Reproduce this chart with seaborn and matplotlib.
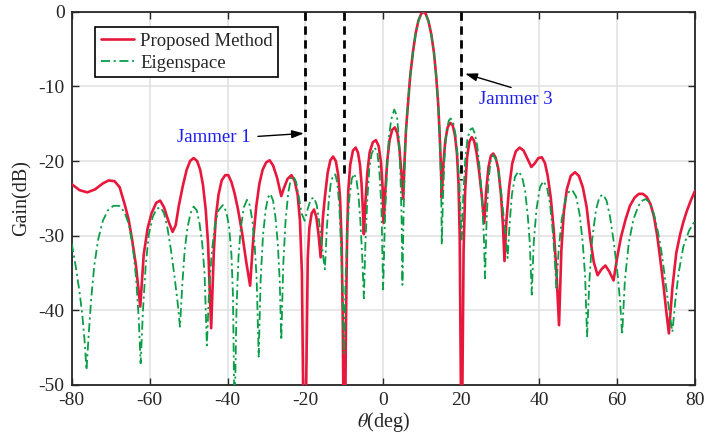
import numpy as np
import pandas as pd
import matplotlib
matplotlib.use("Agg")
import matplotlib.pyplot as plt
import seaborn as sns

# ---------------- data ----------------
# (theta in deg, gain in dB)
prop_points = [
    (-80, -23.1), (-78, -23.9), (-76, -24.2), (-74, -23.8), (-72, -23.0), (-70.5, -22.6), (-69, -22.7),
    (-67.7, -23.5), (-66.4, -25.8), (-65.4, -27.8), (-64.5, -30.5), (-63.5, -34), (-62.4, -39.5),
    (-61.5, -32.5), (-60.5, -29), (-59.5, -27), (-58.3, -25.6), (-57.3, -25.3), (-56.3, -26.2),
    (-55.2, -28), (-54.1, -29.5), (-53.3, -28.6), (-52.5, -26), (-51.5, -23.4), (-50.5, -21.2),
    (-49.6, -20), (-48.7, -19.6), (-47.8, -20), (-47, -21.2), (-46.3, -23.2), (-45.6, -26.5),
    (-45, -31), (-44.2, -42.4), (-43.5, -32), (-43, -27.5), (-42.3, -24.5), (-41.5, -22.6),
    (-40.6, -21.9), (-39.8, -21.9), (-39, -22.8), (-38.2, -24.3), (-37.3, -26.5), (-36.3, -29.5),
    (-35.2, -33.5), (-34.2, -36.7), (-33.4, -30.5), (-32.6, -26), (-31.8, -23), (-31, -21.2),
    (-30.1, -20.2), (-29.2, -19.9), (-28.3, -20.6), (-27.3, -22.2), (-26.2, -24.7), (-25.5, -23.6),
    (-24.6, -22.4), (-23.6, -21.9), (-22.8, -22.6), (-22, -24.5), (-21.4, -28), (-20.9, -35),
    (-20.6, -50), (-20.2, -70), (-19.8, -50), (-19.4, -33), (-19.0, -29), (-18.4, -27.0),
    (-17.8, -26.5), (-17.2, -27.5), (-16.6, -30), (-16.1, -32.9), (-15.5, -27.5), (-15.0, -24.8),
    (-14.3, -21.6), (-13.6, -19.9), (-12.9, -19.4), (-12.2, -20.0), (-11.6, -21.8), (-11.1, -25),
    (-10.7, -31), (-10.4, -42), (-10, -70), (-9.6, -42), (-9.3, -30), (-9.0, -24), (-8.5, -20.5),
    (-7.8, -18.6), (-7.1, -18.2), (-6.5, -18.9), (-6.0, -20.5), (-5.6, -23), (-5.3, -26),
    (-5.0, -29.8), (-4.6, -25.5), (-4.1, -21.5), (-3.5, -18.8), (-2.7, -17.5), (-1.9, -17.2),
    (-1.2, -18), (-0.6, -20.2), (-0.2, -23.5), (0.1, -28.3), (0.5, -24), (1.0, -20), (1.6, -17.2),
    (2.3, -15.8), (2.96, -15.5), (3.6, -16.3), (4.1, -18.2), (4.6, -21.3), (5.1, -25.1),
    (5.4, -20.5), (5.8, -16), (6.3, -12.5), (6.9, -8.6), (7.6, -5.4), (8.3, -2.9), (9.0, -1.2),
    (9.7, -0.3), (10.3, 0.0), (10.9, -0.3), (11.6, -1.3), (12.3, -3.0), (13.0, -5.5), (13.6, -8.8),
    (14.1, -12.5), (14.5, -17), (14.8, -21), (15.0, -24.9), (15.4, -20.5), (15.9, -17.3),
    (16.5, -15.5), (17.2, -14.9), (17.8, -15.2), (18.4, -16.6), (18.9, -19), (19.3, -23),
    (19.6, -30), (19.9, -50), (20.1, -70), (20.3, -50), (20.6, -32), (21.0, -24), (21.5, -19.5),
    (22.1, -17.4), (22.7, -16.8), (23.3, -17.3), (23.9, -18.8), (24.5, -21), (25.2, -24.3),
    (25.9, -28.3), (26.4, -24), (27.0, -20.8), (27.6, -19.3), (28.2, -19.0), (28.8, -19.5),
    (29.5, -21), (30.2, -24.5), (30.7, -28.5), (31.1, -33.4), (31.6, -28), (32.3, -23.5),
    (33.1, -20.3), (34.0, -18.7), (35.0, -18.2), (36.0, -18.6), (37.0, -19.7), (38.0, -20.8),
    (38.9, -20.3), (39.8, -19.6), (40.7, -19.5), (41.5, -20.3), (42.2, -22), (43.0, -25),
    (43.7, -29), (44.4, -34.5), (45.1, -42.0), (45.7, -32), (46.3, -27), (47.1, -23.8),
    (48.1, -22), (49.2, -21.5), (50.2, -22), (51.2, -23.5), (52.2, -26.2), (53.1, -30.3),
    (54.0, -33.5), (55.0, -35.3), (56.0, -34.5), (57.0, -34.0), (58.0, -34.8), (59.1, -36.0),
    (60.0, -33), (61.0, -30.2), (62.2, -27.8), (63.3, -26), (64.5, -24.9), (65.6, -24.4),
    (66.6, -24.4), (67.6, -24.8), (68.6, -25.8), (69.5, -27.5), (70.3, -30), (71.0, -32.8),
    (71.9, -36.6), (72.6, -40), (73.3, -43.1), (74.2, -37), (75.2, -32.3), (76.2, -29.8),
    (77.0, -28.2), (77.9, -26.7), (79, -25.2), (80, -24.0),
]

eig_points = [
    (-80, -31), (-79, -34), (-78, -37.5), (-77.3, -40.5), (-76.7, -44), (-76.2, -48), (-75.6, -43),
    (-75, -38.5), (-74.2, -34), (-73.2, -30.5), (-72, -28), (-70.7, -26.6), (-69.3, -26.0),
    (-67.8, -26.0), (-66.5, -26.8), (-65.3, -28.5), (-64.3, -31.5), (-63.5, -35.5), (-62.8, -41),
    (-62.3, -47.1), (-61.7, -40), (-61.0, -34), (-60.2, -29.8), (-59.2, -27.5), (-58.2, -26.4),
    (-57.2, -26.2), (-56.3, -27), (-55.4, -29), (-54.5, -32), (-53.6, -35.5), (-52.8, -39),
    (-52.2, -42.2), (-51.6, -36.5), (-51.0, -32), (-50.3, -29), (-49.5, -27), (-48.7, -26.1),
    (-47.9, -26.6), (-47.2, -28.3), (-46.5, -31), (-45.9, -35), (-45.3, -44.7), (-44.7, -37),
    (-44.0, -32), (-43.2, -28.5), (-42.3, -26.6), (-41.2, -25.9), (-40.3, -26.8), (-39.6, -28.8),
    (-39.0, -32.5), (-38.6, -38), (-38.2, -55), (-37.7, -40), (-37.2, -33), (-36.6, -29),
    (-35.8, -26.2), (-35.0, -25.2), (-34.3, -25.9), (-33.6, -28), (-33.0, -31.5), (-32.5, -36),
    (-32.0, -46.2), (-31.5, -36), (-30.9, -30), (-30.2, -26.5), (-29.6, -24.9), (-29.0, -24.4),
    (-28.3, -25.3), (-27.7, -27.5), (-27.1, -31), (-26.6, -36), (-26.2, -44.0), (-25.7, -34),
    (-25.1, -28), (-24.4, -24.2), (-23.7, -22.3), (-23.1, -22.0), (-22.4, -22.8), (-21.7, -24.8),
    (-21.0, -27), (-20.2, -28.0), (-19.4, -26.4), (-18.6, -25.1), (-17.8, -24.9), (-17.1, -25.9),
    (-16.5, -28), (-15.9, -30.8), (-15.4, -33), (-15.0, -34.5), (-14.5, -29), (-14.0, -25.3),
    (-13.5, -23), (-12.9, -21.9), (-12.3, -21.8), (-11.8, -23), (-11.3, -26), (-10.9, -31),
    (-10.5, -37), (-10.1, -45.8), (-9.7, -36), (-9.2, -29), (-8.7, -24.8), (-8.1, -22.4),
    (-7.5, -21.7), (-6.9, -22.5), (-6.4, -24.5), (-5.9, -28), (-5.4, -33), (-5.0, -38.4),
    (-4.6, -31), (-4.1, -25), (-3.6, -21), (-3.0, -19), (-2.2, -18.2), (-1.5, -19), (-1.0, -21.5),
    (-0.5, -26), (-0.05, -37.2), (0.4, -28), (0.9, -21.5), (1.4, -17), (2.0, -14.5), (2.8, -13.1),
    (3.5, -14), (4.0, -17), (4.4, -22), (4.7, -28), (4.9, -36.6), (5.2, -27), (5.5, -20),
    (5.8, -16), (6.3, -12.5), (6.9, -8.6), (7.6, -5.4), (8.3, -2.9), (9.0, -1.2), (9.7, -0.3),
    (10.3, 0.0), (10.9, -0.3), (11.6, -1.3), (12.3, -3.0), (13.0, -5.5), (13.6, -8.8),
    (14.1, -12.5), (14.5, -17), (14.7, -21), (14.9, -26), (15.0, -31.2), (15.3, -25),
    (15.7, -19.5), (16.2, -16), (16.8, -14.6), (17.3, -14.3), (17.9, -14.8), (18.5, -16.4),
    (19.0, -19), (19.5, -23), (19.8, -27), (20.1, -30.5), (20.5, -25), (21.0, -20), (21.6, -17),
    (22.3, -15.8), (22.9, -15.6), (23.5, -16.3), (24.1, -18), (24.7, -20.8), (25.3, -25),
    (25.8, -30), (26.1, -35.7), (26.5, -28), (27.0, -22.5), (27.6, -19.8), (28.2, -19.2),
    (28.9, -19.8), (29.6, -21.5), (30.3, -24.5), (31.0, -28), (31.5, -30.5), (31.9, -33.0),
    (32.4, -28.5), (33.0, -24.5), (33.8, -22.1), (34.7, -21.4), (35.6, -22.1), (36.4, -24),
    (37.1, -27.5), (37.6, -31), (38.1, -37.9), (38.6, -31), (39.3, -26.5), (40.2, -23.5),
    (41.1, -22.7), (42.0, -23.5), (42.8, -25.8), (43.5, -29.5), (44.0, -33), (44.4, -37.0),
    (45.0, -32), (45.8, -27.8), (46.8, -25), (47.8, -24), (48.5, -23.9), (49.5, -24.8),
    (50.4, -27.2), (51.2, -31), (51.8, -35.5), (52.3, -43.5), (52.9, -36), (53.6, -30.5),
    (54.6, -26.5), (55.5, -24.8), (56.4, -24.5), (57.3, -25.3), (58.2, -27.5), (59.2, -31),
    (60.2, -35.5), (60.8, -39), (61.3, -43.3), (62.0, -36), (63.0, -31), (64.2, -27.8),
    (65.5, -26), (66.5, -25.3), (67.3, -25.1), (68.3, -25.5), (69.4, -27), (70.5, -29.5),
    (71.5, -32.5), (72.5, -36.5), (73.5, -40.5), (74.2, -42.9), (74.9, -39), (75.8, -35),
    (77.0, -31.5), (78.5, -29.3), (80, -28),
]

series_names = ["Proposed Method", "Eigenspace"]
jammer_theta = [-20, -10, 20]
jammer_bottom = [-25.5, -21.8, -22.5]
x_ticks = [-80, -60, -40, -20, 0, 20, 40, 60, 80]
y_ticks = [0, -10, -20, -30, -40, -50]

# ---------------- style ----------------
sns.set_theme(style="ticks")
plt.rcParams["font.family"] = ["Liberation Serif", "DejaVu Serif"]
plt.rcParams["mathtext.fontset"] = "stix"
plt.rcParams["axes.unicode_minus"] = False

fig = plt.figure(figsize=(7.07, 4.44), dpi=100)
ax = fig.add_axes([0.1014, 0.133, 0.8816, 0.8406])

df_p = pd.DataFrame(prop_points, columns=["theta", "gain"])
df_e = pd.DataFrame(eig_points, columns=["theta", "gain"])

sns.lineplot(data=df_p, x="theta", y="gain", ax=ax, color="#e8173c", lw=1.9,
             sort=False, estimator=None, label=series_names[0], zorder=3)
sns.lineplot(data=df_e, x="theta", y="gain", ax=ax, color="#0a9e48", lw=1.3,
             linestyle=(0, (5, 2, 1.2, 2)), sort=False, estimator=None,
             label=series_names[1], zorder=4)

for jt, jb in zip(jammer_theta, jammer_bottom):
    ax.plot([jt, jt], [0, jb], color="black", lw=2.0, linestyle=(0, (3, 2)), zorder=5)

ax.set_xlim(-80, 80)
ax.set_ylim(-50, 0)
ax.set_xticks(x_ticks)
ax.set_yticks(y_ticks)
ax.set_xticklabels([str(v) for v in x_ticks])
ax.set_yticklabels([str(v) for v in y_ticks])
ax.grid(True, color="#e0e0e0", lw=1.1)
ax.set_axisbelow(True)
ax.tick_params(direction="in", top=True, right=True, labelsize=14, length=5,
               width=1.0, color="#262626", pad=5)
for s in ax.spines.values():
    s.set_linewidth(1.3)
    s.set_color("#262626")
ax.set_xlabel(r"$\theta$(deg)", fontsize=14.5, labelpad=1)
ax.set_ylabel("Gain(dB)", fontsize=14.5, labelpad=5)

leg = ax.legend(loc="upper left", bbox_to_anchor=(0.0374, 0.959), borderaxespad=0,
                fontsize=13.5, frameon=True, fancybox=False, edgecolor="black",
                framealpha=1, labelspacing=0.25, handlelength=1.8, handletextpad=0.3,
                borderpad=0.3)
leg.get_frame().set_linewidth(1.2)

ax.annotate("", xy=(-20.4, -16.3), xytext=(-32.2, -16.7),
            arrowprops=dict(arrowstyle="-|>,head_length=0.6,head_width=0.2",
                            color="black", lw=1.0, shrinkA=0, shrinkB=0), zorder=6)
ax.text(-43.4, -16.8, "Jammer 1", color="#1c1cf0", fontsize=13.5, ha="center", va="center")
ax.annotate("", xy=(21.0, -8.3), xytext=(32.8, -10.15),
            arrowprops=dict(arrowstyle="-|>,head_length=0.6,head_width=0.2",
                            color="black", lw=1.0, shrinkA=0, shrinkB=0), zorder=6)
ax.text(33.9, -11.7, "Jammer 3", color="#1c1cf0", fontsize=13.5, ha="center", va="center")

fig.savefig("out.png", dpi=100)
